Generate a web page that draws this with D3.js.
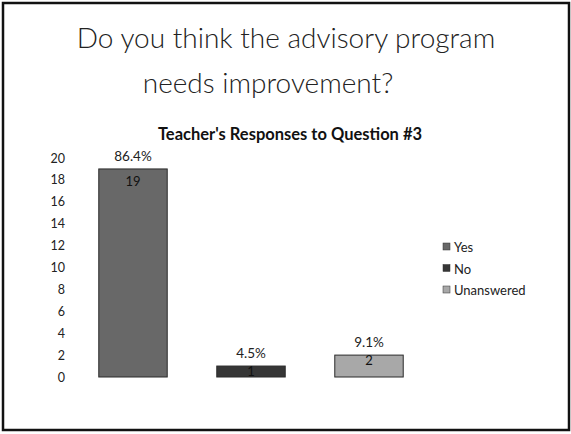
<!DOCTYPE html>
<html>
<head>
<meta charset="utf-8">
<script src="https://cdn.jsdelivr.net/npm/d3@7"></script>
<style>
  body { margin: 0; background: #fff; }
  svg { display: block; font-family: Lato, "Open Sans", sans-serif; }
</style>
</head>
<body>
<svg id="chart"></svg>
<script>
var categories = ["Yes", "No", "Unanswered"];
var counts = [19, 1, 2];
var percents = ["86.4%", "4.5%", "9.1%"];
var yTicks = [0, 2, 4, 6, 8, 10, 12, 14, 16, 18, 20];
var fills = ["#686868", "#363636", "#a8a8a8"];

var width = 571, height = 434;
var svg = d3.select("#chart")
            .attr("width", width)
            .attr("height", height);

// slide frame
svg.append("rect")
    .attr("x", 3).attr("y", 3)
    .attr("width", width - 5).attr("height", height - 7)
    .attr("fill", "#fff")
    .attr("stroke", "#111")
    .attr("stroke-width", 2.5);

svg.append("text")
    .attr("x", 286).attr("y", 48)
    .attr("text-anchor", "middle")
    .attr("font-size", "28px")
    .attr("font-weight", 300)
    .attr("fill", "#222")
    .text("Do you think the advisory program");

svg.append("text")
    .attr("x", 268).attr("y", 93)
    .attr("text-anchor", "middle")
    .attr("font-size", "28px")
    .attr("font-weight", 300)
    .attr("fill", "#222")
    .text("needs improvement?");

svg.append("text")
    .attr("x", 290).attr("y", 140)
    .attr("text-anchor", "middle")
    .attr("font-size", "16.5px")
    .attr("font-weight", "bold")
    .attr("fill", "#111")
    .text("Teacher's Responses to Question #3");

var x = d3.scaleBand()
          .domain(categories)
          .range([74, 428])
          .paddingInner(0.42)
          .paddingOuter(0.21);

var y = d3.scaleLinear()
          .domain([0, 20])
          .range([377, 158]);

var yAxis = d3.axisLeft(y)
              .tickValues(yTicks)
              .tickSize(0)
              .tickPadding(0);

var gy = svg.append("g")
    .attr("transform", "translate(65,0)")
    .call(yAxis);
gy.select(".domain").remove();
gy.selectAll("text")
    .attr("font-size", "12.5px")
    .attr("fill", "#222")
    .attr("font-family", "Lato, 'Open Sans', sans-serif");

var bars = svg.selectAll(".bar")
    .data(categories)
    .enter()
    .append("g")
    .classed("bar", true);

bars.append("rect")
    .attr("x", d => x(d))
    .attr("y", (d, i) => y(counts[i]))
    .attr("width", x.bandwidth())
    .attr("height", (d, i) => y(0) - y(counts[i]))
    .attr("fill", (d, i) => fills[i])
    .attr("stroke", "#2a2a2a")
    .attr("stroke-width", 1);

bars.append("text")
    .attr("x", d => x(d) + x.bandwidth() / 2)
    .attr("y", (d, i) => y(counts[i]) - 8)
    .attr("text-anchor", "middle")
    .attr("font-size", "13.5px")
    .attr("fill", "#222")
    .text((d, i) => percents[i]);

bars.append("text")
    .attr("x", d => x(d) + x.bandwidth() / 2)
    .attr("y", (d, i) => counts[i] > 5 ? y(counts[i]) + 17 : y(counts[i]) + 10)
    .attr("text-anchor", "middle")
    .attr("font-size", "13px")
    .attr("fill", "#111")
    .text((d, i) => counts[i]);

// legend
var legend = svg.selectAll(".legend")
    .data(categories)
    .enter()
    .append("g")
    .classed("legend", true)
    .attr("transform", (d, i) => "translate(443," + (252 + i * 21.5) + ")");

legend.append("rect")
    .attr("x", 0).attr("y", -9)
    .attr("width", 7).attr("height", 7)
    .attr("fill", (d, i) => fills[i])
    .attr("stroke", "#333")
    .attr("stroke-width", 0.5);

legend.append("text")
    .attr("x", 11).attr("y", 0)
    .attr("font-size", "13px")
    .attr("fill", "#222")
    .text(d => d);
</script>
</body>
</html>
